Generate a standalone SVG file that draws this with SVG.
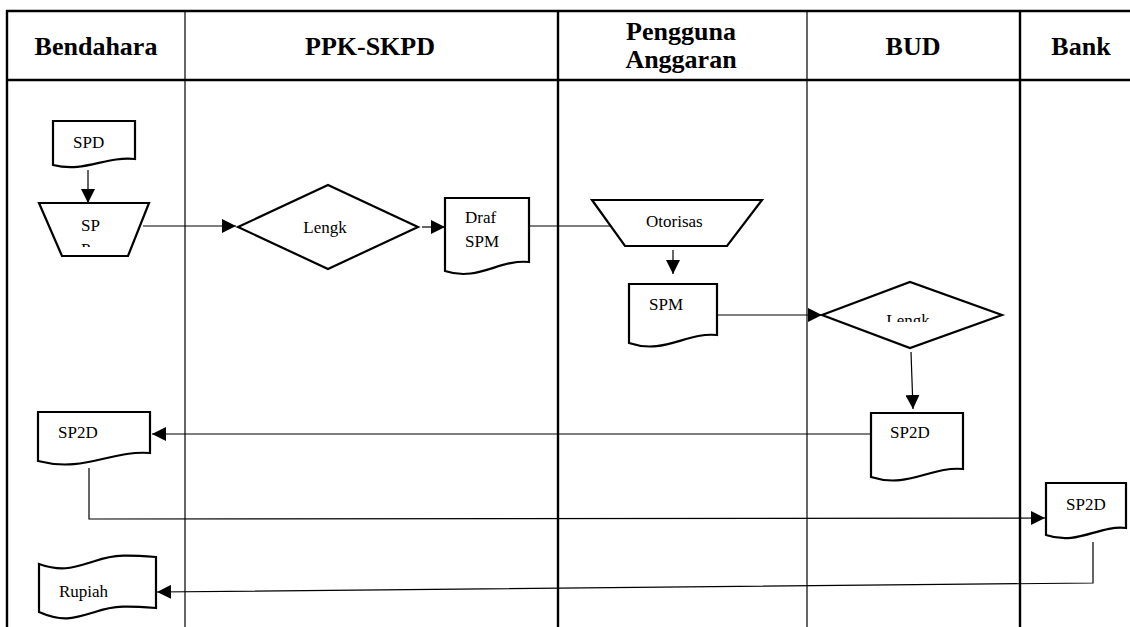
<svg xmlns="http://www.w3.org/2000/svg" width="1130" height="627" viewBox="0 0 1130 627">
<style>
.hdr{font-family:"Liberation Serif","Times New Roman",serif;font-weight:bold;font-size:26px;fill:#000;text-anchor:middle}
.lbl{font-family:"Liberation Serif","Times New Roman",serif;font-size:17px;fill:#000}
.shape{fill:#fff;stroke:#000;stroke-width:2.2;stroke-linejoin:miter}
.conn{fill:none;stroke:#000;stroke-width:1.2}
.arr{marker-end:url(#ah)}
.grid2{stroke:#000;stroke-width:2.4}
.grid1{stroke:#000;stroke-width:1.2}
</style>
<defs>
<marker id="ah" markerUnits="userSpaceOnUse" markerWidth="15" markerHeight="14" refX="14" refY="7" orient="auto">
<path d="M0,0 L14,7 L0,14 Z" fill="#000"/>
</marker>
<clipPath id="clipSPP"><rect x="30" y="200" width="130" height="47"/></clipPath>
<clipPath id="clipL2"><rect x="820" y="280" width="190" height="42"/></clipPath>
</defs>
<rect width="1130" height="627" fill="#fff"/>
<g id="table">
<line class="grid2" x1="6" y1="11" x2="1130" y2="11"/>
<line class="grid2" x1="6" y1="80" x2="1130" y2="80"/>
<line class="grid2" x1="7" y1="10" x2="7" y2="627"/>
<line class="grid1" x1="185" y1="11" x2="185" y2="627"/>
<line class="grid2" x1="558" y1="11" x2="558" y2="627"/>
<line class="grid1" x1="807" y1="11" x2="807" y2="627"/>
<line class="grid2" x1="1020" y1="11" x2="1020" y2="627"/>
<text class="hdr" x="96" y="55">Bendahara</text>
<text class="hdr" x="370" y="55">PPK-SKPD</text>
<text class="hdr" x="681" y="40">Pengguna</text>
<text class="hdr" x="681" y="68">Anggaran</text>
<text class="hdr" x="913" y="55">BUD</text>
<text class="hdr" x="1081" y="55">Bank</text>
</g>
<g id="connectors">
<line class="conn arr" x1="88" y1="170" x2="88" y2="203"/>
<line class="conn arr" x1="143" y1="226" x2="236" y2="226"/>
<line class="conn arr" x1="422" y1="227" x2="445" y2="227"/>
<line class="conn" x1="529" y1="226" x2="611" y2="226"/>
<line class="conn arr" x1="673" y1="250" x2="673" y2="274"/>
<line class="conn arr" x1="717" y1="315" x2="822" y2="315"/>
<line class="conn arr" x1="911" y1="352" x2="913" y2="409"/>
<line class="conn arr" x1="871" y1="434" x2="152" y2="434"/>
<polyline class="conn arr" points="89,468 89,519 1045,518"/>
<polyline class="conn arr" points="1093,542 1093,583 157,592"/>
</g>
<g id="spd">
<path class="shape" d="M53,121 H135 V159 C105,156 85,173 53,165 Z"/>
<text class="lbl" x="73" y="148">SPD</text>
</g>
<g id="spp">
<path class="shape" d="M39,203 H149 L128,256 H62 Z"/>
<g clip-path="url(#clipSPP)">
<text class="lbl" x="81" y="231">SP</text>
<text class="lbl" x="81" y="255">P</text>
</g>
</g>
<g id="lengk1">
<path class="shape" d="M238,227 L328,185 L418,227 L328,269 Z"/>
<text class="lbl" x="325" y="233" text-anchor="middle">Lengk</text>
</g>
<g id="draf-spm">
<path class="shape" d="M445,198 H529 V262 C499,259 478,282 445,271 Z"/>
<text class="lbl" x="465" y="223">Draf</text>
<text class="lbl" x="465" y="247">SPM</text>
</g>
<g id="otorisasi">
<path class="shape" d="M592,200 H762 L727,246 H625 Z"/>
<text class="lbl" x="646" y="227">Otorisas</text>
</g>
<g id="spm">
<path class="shape" d="M629,284 H717 V335 C686,332 664,355 629,343 Z"/>
<text class="lbl" x="649" y="310">SPM</text>
</g>
<g id="lengk2">
<path class="shape" d="M822,315 L910,282 L1002,315 L910,348 Z"/>
<g clip-path="url(#clipL2)">
<text class="lbl" x="908" y="326" text-anchor="middle">Lengk</text>
</g>
</g>
<g id="sp2d-bud">
<path class="shape" d="M871,413 H963 V469 C931,466 908,489 871,477 Z"/>
<text class="lbl" x="890" y="438">SP2D</text>
</g>
<g id="sp2d-bendahara">
<path class="shape" d="M38,412 H150 V453 C111,450 84,473 38,461 Z"/>
<text class="lbl" x="58" y="438">SP2D</text>
</g>
<g id="sp2d-bank">
<path class="shape" d="M1046,483 H1126 V528 C1098,525 1078,546 1046,535 Z"/>
<text class="lbl" x="1066" y="510">SP2D</text>
</g>
<g id="rupiah">
<path class="shape" d="M39,564 C62,572 72,568 95,561 C115,554 130,555 156,557 V608 C130,606 115,605 95,612 C72,619 62,622 39,612 Z"/>
<text class="lbl" x="59" y="597">Rupiah</text>
</g>
</svg>
